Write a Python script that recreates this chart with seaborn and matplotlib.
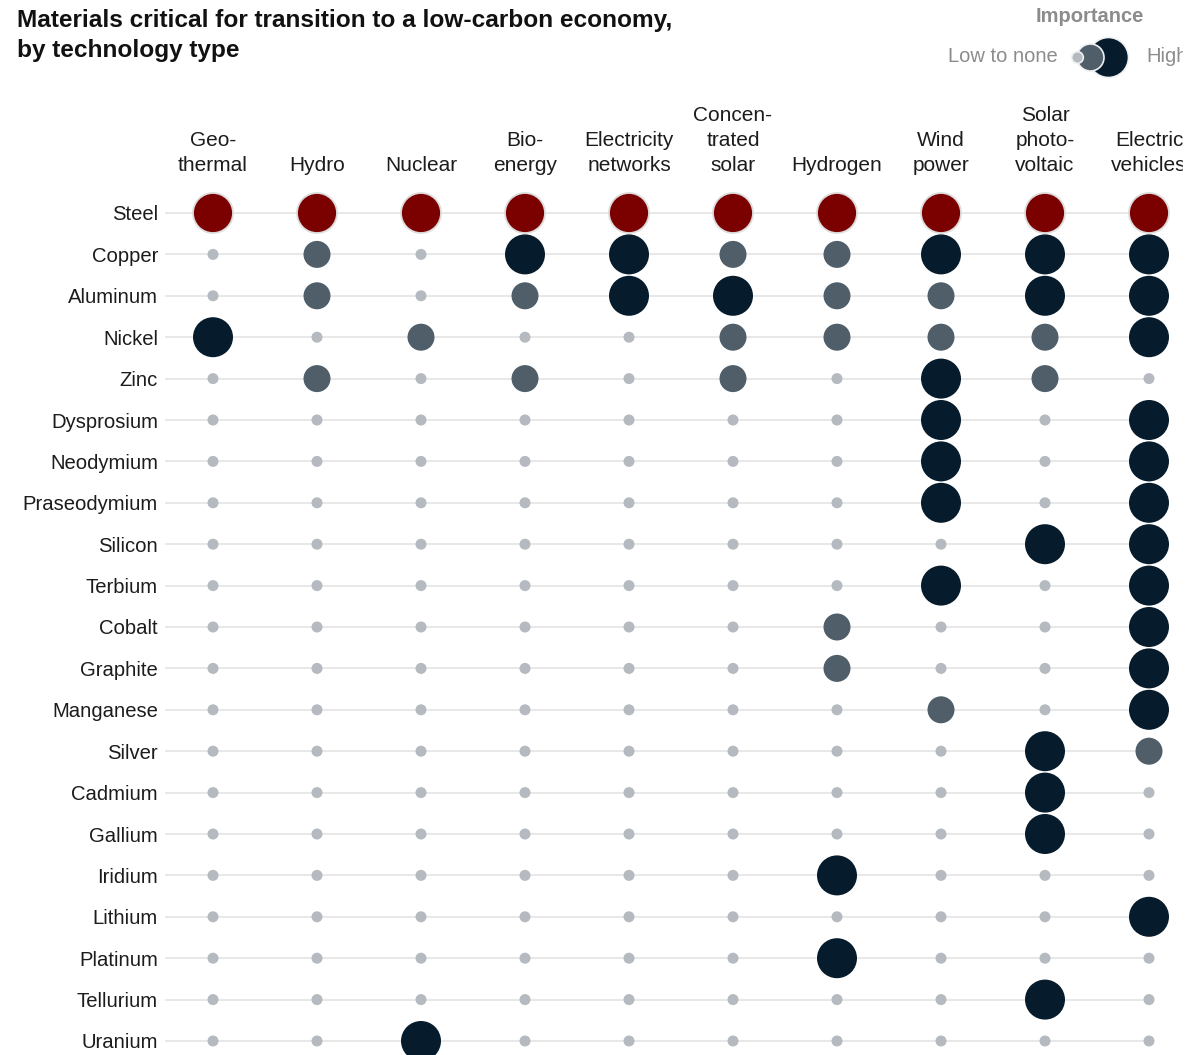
import pandas as pd
import seaborn as sns
import matplotlib.pyplot as plt
from matplotlib.patches import Rectangle

sns.set_theme(style="white")
plt.rcParams["font.family"] = ["Liberation Sans", "DejaVu Sans"]

technologies = ["Geo-\nthermal", "Hydro", "Nuclear", "Bio-\nenergy", "Electricity\nnetworks",
                "Concen-\ntrated\nsolar", "Hydrogen", "Wind\npower", "Solar\nphoto-\nvoltaic",
                "Electric\nvehicles"]
materials = ["Steel", "Copper", "Aluminum", "Nickel", "Zinc", "Dysprosium", "Neodymium",
             "Praseodymium", "Silicon", "Terbium", "Cobalt", "Graphite", "Manganese", "Silver",
             "Cadmium", "Gallium", "Iridium", "Lithium", "Platinum", "Tellurium", "Uranium"]
# 0 = low to none, 1 = medium, 2 = high (one row per material, one column per technology)
importance = [
    [2, 2, 2, 2, 2, 2, 2, 2, 2, 2],
    [0, 1, 0, 2, 2, 1, 1, 2, 2, 2],
    [0, 1, 0, 1, 2, 2, 1, 1, 2, 2],
    [2, 0, 1, 0, 0, 1, 1, 1, 1, 2],
    [0, 1, 0, 1, 0, 1, 0, 2, 1, 0],
    [0, 0, 0, 0, 0, 0, 0, 2, 0, 2],
    [0, 0, 0, 0, 0, 0, 0, 2, 0, 2],
    [0, 0, 0, 0, 0, 0, 0, 2, 0, 2],
    [0, 0, 0, 0, 0, 0, 0, 0, 2, 2],
    [0, 0, 0, 0, 0, 0, 0, 2, 0, 2],
    [0, 0, 0, 0, 0, 0, 1, 0, 0, 2],
    [0, 0, 0, 0, 0, 0, 1, 0, 0, 2],
    [0, 0, 0, 0, 0, 0, 0, 1, 0, 2],
    [0, 0, 0, 0, 0, 0, 0, 0, 2, 1],
    [0, 0, 0, 0, 0, 0, 0, 0, 2, 0],
    [0, 0, 0, 0, 0, 0, 0, 0, 2, 0],
    [0, 0, 0, 0, 0, 0, 2, 0, 0, 0],
    [0, 0, 0, 0, 0, 0, 0, 0, 0, 2],
    [0, 0, 0, 0, 0, 0, 2, 0, 0, 0],
    [0, 0, 0, 0, 0, 0, 0, 0, 2, 0],
    [0, 0, 2, 0, 0, 0, 0, 0, 0, 0],
]
highlight = "Steel"
legend_levels = [0, 1, 2]

level_sizes = {0: 63, 1: 378, 2: 829}
level_colors = {0: "#b4bac0", 1: "#4f5e69", 2: "#061b2b"}
red = "#7b0000"
text_color = "#1c1c1c"
grey_text = "#8c8c8c"

rows = []
for i, mat in enumerate(materials):
    for j, tech in enumerate(technologies):
        rows.append({"material": mat, "mat_idx": i, "tech_idx": j, "level": importance[i][j]})
df = pd.DataFrame(rows)

W, H = 1204, 1055
fig = plt.figure(figsize=(W / 100, H / 100), dpi=100)
ax = fig.add_axes([165 / W, 0, (1183 - 165) / W, (H - 190) / H])

# light row lines
x_left = -48 / 104
ax.hlines(range(len(materials)), x_left, len(technologies) - 1, color="#e1e1e1", lw=1.1, zorder=0)

base = df[df.material != highlight]
sns.scatterplot(data=base, x="tech_idx", y="mat_idx", hue="level", size="level",
                sizes=level_sizes, palette=level_colors, linewidth=0, legend=False,
                ax=ax, zorder=2)
hl = df[df.material == highlight]
sns.scatterplot(data=hl, x="tech_idx", y="mat_idx", size="level", sizes=level_sizes,
                color=red, edgecolor="#dcdcdc", linewidth=1.3, legend=False, ax=ax, zorder=3)

ax.set_xlim(x_left, len(technologies) - 1 + 34 / 104)
ax.set_ylim(len(materials) - 1 + 14 / 41.4, -23 / 41.4)

ax.xaxis.tick_top()
ax.set_xticks(range(len(technologies)))
ax.set_xticklabels(technologies, fontsize=15, color=text_color, linespacing=1.4)
ax.set_yticks(range(len(materials)))
ax.set_yticklabels(materials, fontsize=14.6, color=text_color)
ax.tick_params(axis="x", length=0, pad=11)
ax.tick_params(axis="y", length=0, pad=5)
ax.set_xlabel("")
ax.set_ylabel("")
for s in ax.spines.values():
    s.set_visible(False)

fig.text(17 / W, 1 - 9 / H, "Materials critical for transition to a low-carbon economy,\nby technology type",
         ha="left", va="top", fontsize=17.6, fontweight="bold", color="#111111", linespacing=1.4)

# legend
fig.text(1090 / W, 1 - 17 / H, "Importance", ha="center", va="center", fontsize=14.5,
         fontweight="bold", color=grey_text)
fig.text(1058 / W, 1 - 57 / H, "Low to none", ha="right", va="center", fontsize=14.5, color=grey_text)
fig.text(1146 / W, 1 - 57 / H, "High", ha="left", va="center", fontsize=14.5, color=grey_text)
lax = fig.add_axes([1062 / W, 1 - 80 / H, 70 / W, 46 / H])
lax.set_xlim(0, 70)
lax.set_ylim(0, 46)
lax.axis("off")
leg = pd.DataFrame({"level": legend_levels, "x": [15, 28, 46], "y": [23, 23, 23]})
leg_sizes = {0: 70, 1: 378, 2: 829}
for k, r in leg.iterrows():
    lax.scatter(r.x, r.y, s=leg_sizes[r.level], color=level_colors[r.level],
                edgecolor="#eef0f2", linewidth=1.2, zorder=10 - k)

# reference is cropped on the right
fig.add_artist(Rectangle((1183 / W, 0), 21 / W, 1, transform=fig.transFigure,
                         color="white", zorder=20))

fig.savefig("out.png", dpi=100)
